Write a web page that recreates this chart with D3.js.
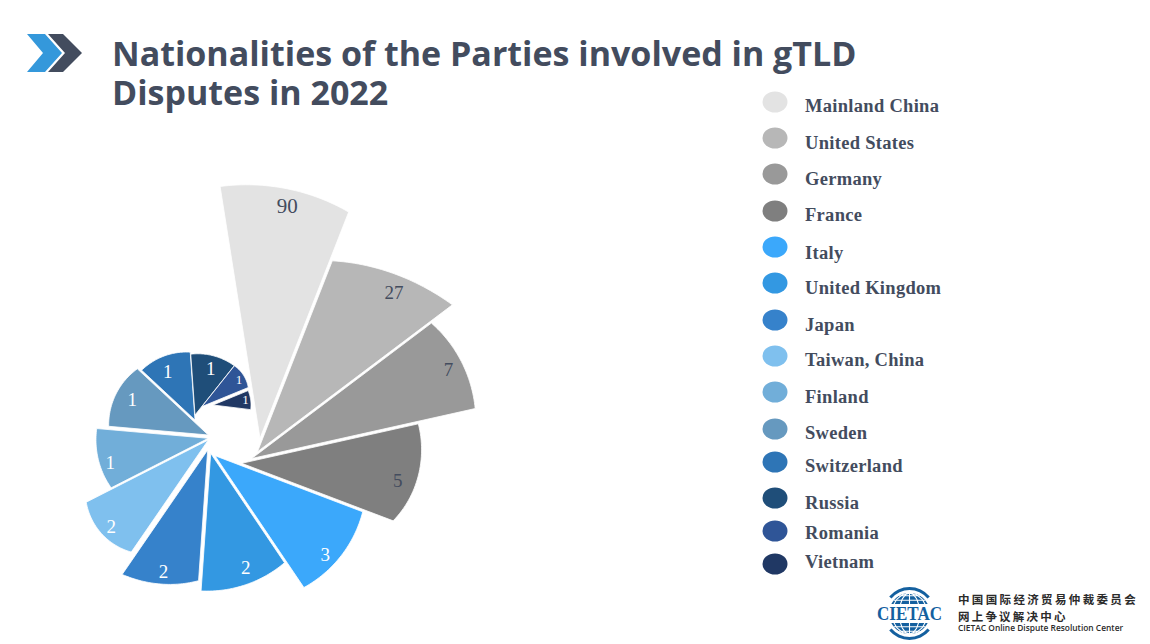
<!DOCTYPE html>
<html>
<head>
<meta charset="utf-8">
<style>
  html, body { margin: 0; padding: 0; background: #fff; }
  svg { display: block; }
</style>
<script src="https://cdn.jsdelivr.net/npm/d3@7"></script>
</head>
<body>
<div id="chart"></div>
<script>
var categories = ['Mainland China','United States','Germany','France','Italy','United Kingdom','Japan','Taiwan, China','Finland','Sweden','Switzerland','Russia','Romania','Vietnam']
var counts = [90,27,7,5,3,2,2,2,1,1,1,1,1,1]
var colors = ['#e3e3e3','#b7b7b7','#999999','#7f7f7f','#3ba8fb','#3398e2','#3682cb','#7fc0ee','#71aed9','#6699bf','#2e75b6','#1f4e79','#2f5597','#203864']

// the spiral does not follow the values, so its shape is read off the picture
var sweep = [-9,21.4,53,77.4,110.8,146,184,214.5,243,275,313,356,398.5,427.7,457]
var rimStart = [255,205,225,181,158,132,131,136,109,100,73,61,52,38]
var rimMid = [251,224,231,177,161,136,142,142,112,101,71,62,52,38]
var rimEnd = [243,244,229,162,159,138,151,137,112,97,68,63,50,38]
var apexX = [260,257.5,251.7,241.7,215,210.7,207.7,208.3,208.3,208.3,195,195,202,213]
var apexY = [438.3,451.7,458.5,463.3,455.7,453.3,450,440,438.3,435,420,415,406.5,405]
var labelAngle = [6.7,40.5,65.6,96.4,131.8,162.9,200,228.3,256,295,330.8,378.6,413.8,440]
var labelRadius = [234,210,216,157,148,119,129,130,101,84,56,49,46,33]
var legendY = [102,138,174,211,247,283,320,356,392,429,462,498,531,564]
var legendBase = [112,149,185,221,259,294,331,366,403,439,472,509,539,568]

var width = 1150
var height = 644
var ink = '#434c5e'
var index = d3.range(categories.length)
var rad = Math.PI / 180

var svg = d3.select('#chart').append('svg')
  .attr('width',width)
  .attr('height',height)

// header
var chevron = d3.line()
svg.append('path')
  .attr('d',chevron([[27,34],[45,34],[62,53],[45,72],[27,72],[43,53]])+'Z')
  .attr('fill','#3498db')
svg.append('path')
  .attr('d',chevron([[48,34],[63,34],[82,53],[63,72],[48,72],[65,53]])+'Z')
  .attr('fill',ink)
var title = svg.append('text')
  .attr('font-family','Open Sans')
  .attr('font-weight',700)
  .attr('font-size',34)
  .attr('fill',ink)
title.selectAll('tspan')
  .data([['Nationalities of the Parties involved in gTLD',66],['Disputes in 2022',105]])
  .enter().append('tspan')
    .attr('x',112)
    .attr('y',(d) => {return d[1]})
    .text((d) => {return d[0]})

// scales
var byIndex = (range) => d3.scaleLinear().domain(d3.range(range.length)).range(range)
var sweepScale = byIndex(sweep)
var xScale = byIndex(apexX)
var yScale = byIndex(apexY)
var startScale = byIndex(rimStart)
var midScale = byIndex(rimMid)
var endScale = byIndex(rimEnd)
var fractions = d3.range(0,1.0001,1/32)

var slicePath = (i) => {
  var a0 = sweepScale(i) * rad
  var a1 = sweepScale(i+1) * rad
  var r0 = startScale(i), rm = midScale(i), r1 = endScale(i)
  var rim = (t) => r0*(1-t)*(1-2*t) + 4*rm*t*(1-t) + r1*t*(2*t-1)
  var points = [[a0,0]].concat(fractions.map((t) => [a0+(a1-a0)*t,rim(t)]))
  return d3.lineRadial().angle((d) => d[0]).radius((d) => d[1])(points) + 'Z'
}

svg.append('g').selectAll('path')
  .data(index)
  .enter().append('path')
    .attr('d',slicePath)
    .attr('transform',(i) => 'translate('+xScale(i)+','+yScale(i)+')')
    .attr('fill',(i) => colors[i])
    .attr('stroke','#fff')
    .attr('stroke-width',.8)
    .attr('stroke-linejoin','round')

var labelAngleScale = byIndex(labelAngle)
var labelRadiusScale = byIndex(labelRadius)
svg.append('g').selectAll('text')
  .data(index)
  .enter().append('text')
    .attr('x',(i) => xScale(i)+labelRadiusScale(i)*Math.sin(labelAngleScale(i)*rad))
    .attr('y',(i) => yScale(i)-labelRadiusScale(i)*Math.cos(labelAngleScale(i)*rad))
    .attr('dy','.35em')
    .attr('text-anchor','middle')
    .attr('font-family','Liberation Serif')
    .attr('font-size',(i) => i==0 ? 21 : (i>11 ? 13 : 19))
    .attr('fill',(i) => i<4 ? ink : '#fff')
    .text((i) => counts[i])

// legend
var legendYScale = byIndex(legendY)
var legendBaseScale = byIndex(legendBase)
var legend = svg.append('g')
legend.selectAll('ellipse')
  .data(index)
  .enter().append('ellipse')
    .attr('cx',775)
    .attr('cy',(i) => legendYScale(i))
    .attr('rx',12.5)
    .attr('ry',10.5)
    .attr('fill',(i) => colors[i])
legend.selectAll('text')
  .data(index)
  .enter().append('text')
    .attr('x',805)
    .attr('y',(i) => legendBaseScale(i))
    .attr('font-family','Liberation Serif')
    .attr('font-weight',700)
    .attr('font-size',18.5)
    .attr('letter-spacing',.3)
    .attr('fill',ink)
    .text((i) => categories[i])

// logo
var logoBlue = '#14609f'
var logo = svg.append('g')
var cx = 909.5, cy = 613.5
var defs = svg.append('defs')
defs.append('clipPath').attr('id','caps').selectAll('rect')
  .data([[586,18],[623,18]])
  .enter().append('rect')
    .attr('x',870).attr('width',80)
    .attr('y',(d) => d[0]).attr('height',(d) => d[1])
var projection = d3.geoOrthographic().scale(20.5).translate([cx,cy]).rotate([0,0]).clipAngle(90)
var geo = d3.geoPath(projection)
var globe = logo.append('g').attr('clip-path','url(#caps)')
globe.append('path').datum({type:'Sphere'}).attr('d',geo).attr('fill',logoBlue)
globe.append('path').datum(d3.geoGraticule().step([30,20])()).attr('d',geo)
  .attr('fill','none').attr('stroke','#fff').attr('stroke-width',1.1)
var swoosh = d3.arc().innerRadius(23.5).outerRadius(26.5)
logo.selectAll('.swoosh')
  .data([[-50,50],[130,230]])
  .enter().append('path')
    .attr('class','swoosh')
    .attr('d',(d) => swoosh({startAngle:d[0]*rad,endAngle:d[1]*rad}))
    .attr('transform','translate('+cx+','+cy+')')
    .attr('fill',logoBlue)
logo.append('text')
  .attr('x',877).attr('y',620)
  .attr('textLength',65).attr('lengthAdjust','spacingAndGlyphs')
  .attr('font-family','Liberation Serif')
  .attr('font-weight',700)
  .attr('font-size',18)
  .attr('fill',logoBlue)
  .text('CIETAC')
var logoText = [['中国国际经济贸易仲裁委员会',604,11.5,2.35,'Noto Sans CJK SC',700],['网上争议解决中心',621,11.5,2.2,'Noto Sans CJK SC',700],['CIETAC Online Dispute Resolution Center',631,8.4,0,'Open Sans',600]]
logo.selectAll('.logo-text')
  .data(logoText)
  .enter().append('text')
    .attr('class','logo-text')
    .attr('x',958)
    .attr('y',(d) => d[1])
    .attr('font-size',(d) => d[2])
    .attr('letter-spacing',(d) => d[3])
    .attr('font-family',(d) => d[4])
    .attr('font-weight',(d) => d[5])
    .attr('fill','#2b2b2b')
    .text((d) => d[0])
</script>
</body>
</html>
